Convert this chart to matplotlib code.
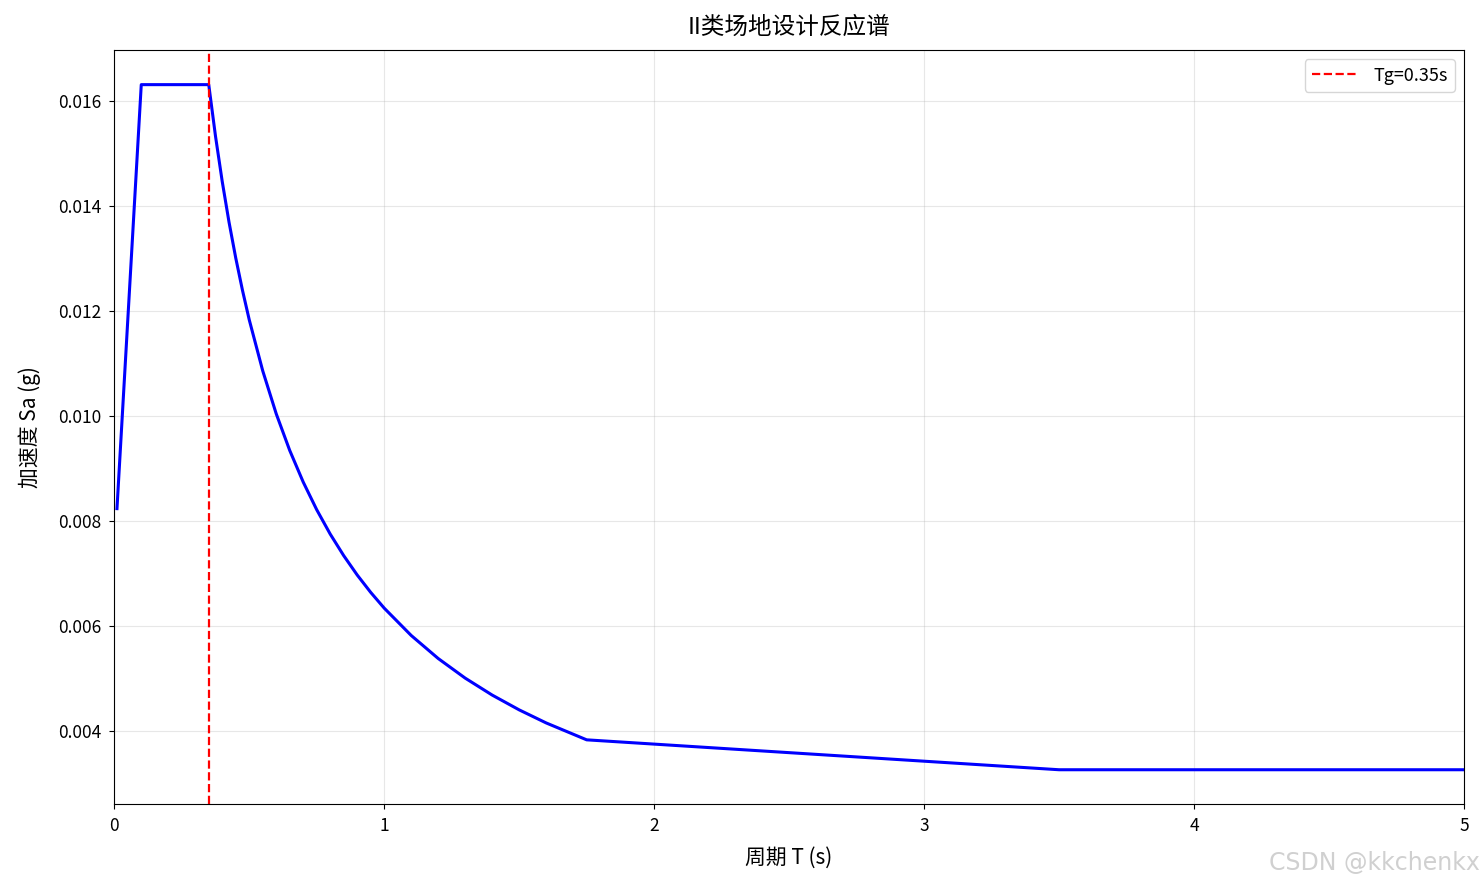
import matplotlib
matplotlib.use("Agg")
import matplotlib.pyplot as plt

plt.rcParams['font.family'] = ['Noto Sans CJK SC', 'DejaVu Sans']
plt.rcParams['axes.unicode_minus'] = False

# period T (s) and spectral acceleration Sa (g)
period = [0.01, 0.10, 0.35, 0.375, 0.40, 0.425, 0.45, 0.475, 0.50, 0.55, 0.60,
          0.65, 0.70, 0.75, 0.80, 0.85, 0.90, 0.95, 1.00, 1.10, 1.20, 1.30,
          1.40, 1.50, 1.60, 1.75, 3.50, 5.00]
sa = [0.00824, 0.01632, 0.01632, 0.015338, 0.014472, 0.013703, 0.013017,
      0.012400, 0.011839, 0.010866, 0.010047, 0.009349, 0.008746, 0.008219,
      0.007755, 0.007344, 0.006975, 0.006644, 0.006344, 0.005823, 0.005384,
      0.005010, 0.004687, 0.004405, 0.004156, 0.003834, 0.003264, 0.003264]
tg = 0.35

fig, ax = plt.subplots(figsize=(14.84, 8.84), dpi=100)
ax.plot(period, sa, color="blue", linewidth=2.2)
ax.axvline(tg, color="red", linestyle="--", linewidth=1.6, label=f"Tg={tg}s")

ax.set_xlim(0, 5)
ax.set_xlabel("周期 T (s)", fontsize=15, labelpad=8)
ax.set_ylabel("加速度 Sa (g)", fontsize=15, labelpad=12)
ax.set_title("II类场地设计反应谱", fontsize=17, pad=12)
ax.tick_params(labelsize=12.5, pad=6)
ax.grid(True, alpha=0.3)
ax.legend(loc="upper right", fontsize=13, handlelength=2.6)

fig.subplots_adjust(left=0.077, right=0.9865, top=0.943, bottom=0.0905)
fig.text(0.997, 0.01, "CSDN @kkchenkx", ha="right", va="bottom",
         fontsize=17, color="#d0d0d0", family=["DejaVu Sans"])
fig.savefig("out.png", dpi=100)
